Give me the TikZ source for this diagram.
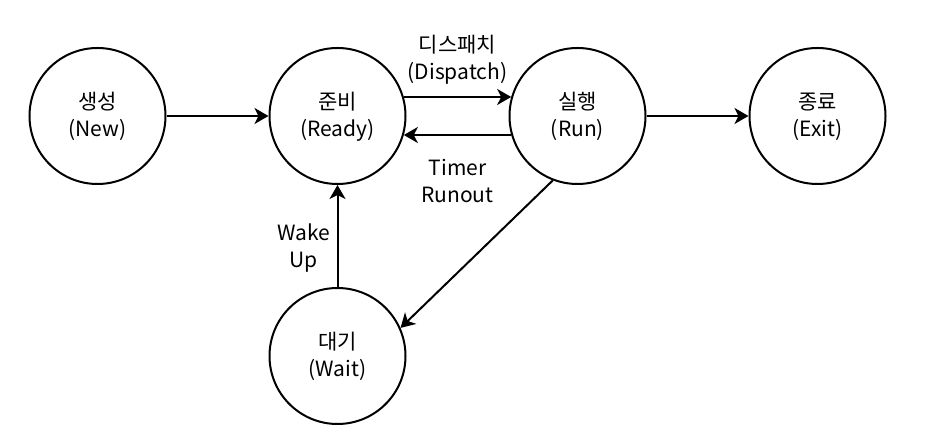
\documentclass[tikz,border=0pt]{standalone}
\usepackage{fontspec}
\setmainfont{Noto Sans CJK KR}
\usetikzlibrary{arrows.meta}

\begin{document}
\begin{tikzpicture}[line width=1pt, ->, >={Stealth[length=7pt,width=8pt,inset=2pt]}, node distance=120pt, font=\fontsize{10.5}{13.5}\selectfont]
  \tikzset{state/.style={draw,circle,minimum size=68pt,inner sep=0pt,align=center,text depth=1.5pt}}
  \useasboundingbox (-48.75pt,58pt) rectangle (414.25pt,-166pt);
  \node [state] (new) at (0,0) {생성\\(New)};
  \node [state] (ready) [right of=new] {준비\\(Ready)};
  \node [state] (run) [right of=ready] {실행\\(Run)};
  \node [state] (exit) [right of=run] {종료\\(Exit)};
  \node [state] (wait) [below of=ready] {대기\\(Wait)};

  \path (new) edge (ready)
        (ready.16) edge node [above=2.5pt, align=center] {디스패치\\(Dispatch)} (run.164)
        (run.196) edge node [below=8.5pt, align=center] {Timer\\Runout} (ready.344)
        (run) edge (exit)
        (wait) edge node [left, yshift=-6pt, align=center] {Wake\\Up} (ready)
        (run.249) edge (wait.24);
\end{tikzpicture}
\end{document}
